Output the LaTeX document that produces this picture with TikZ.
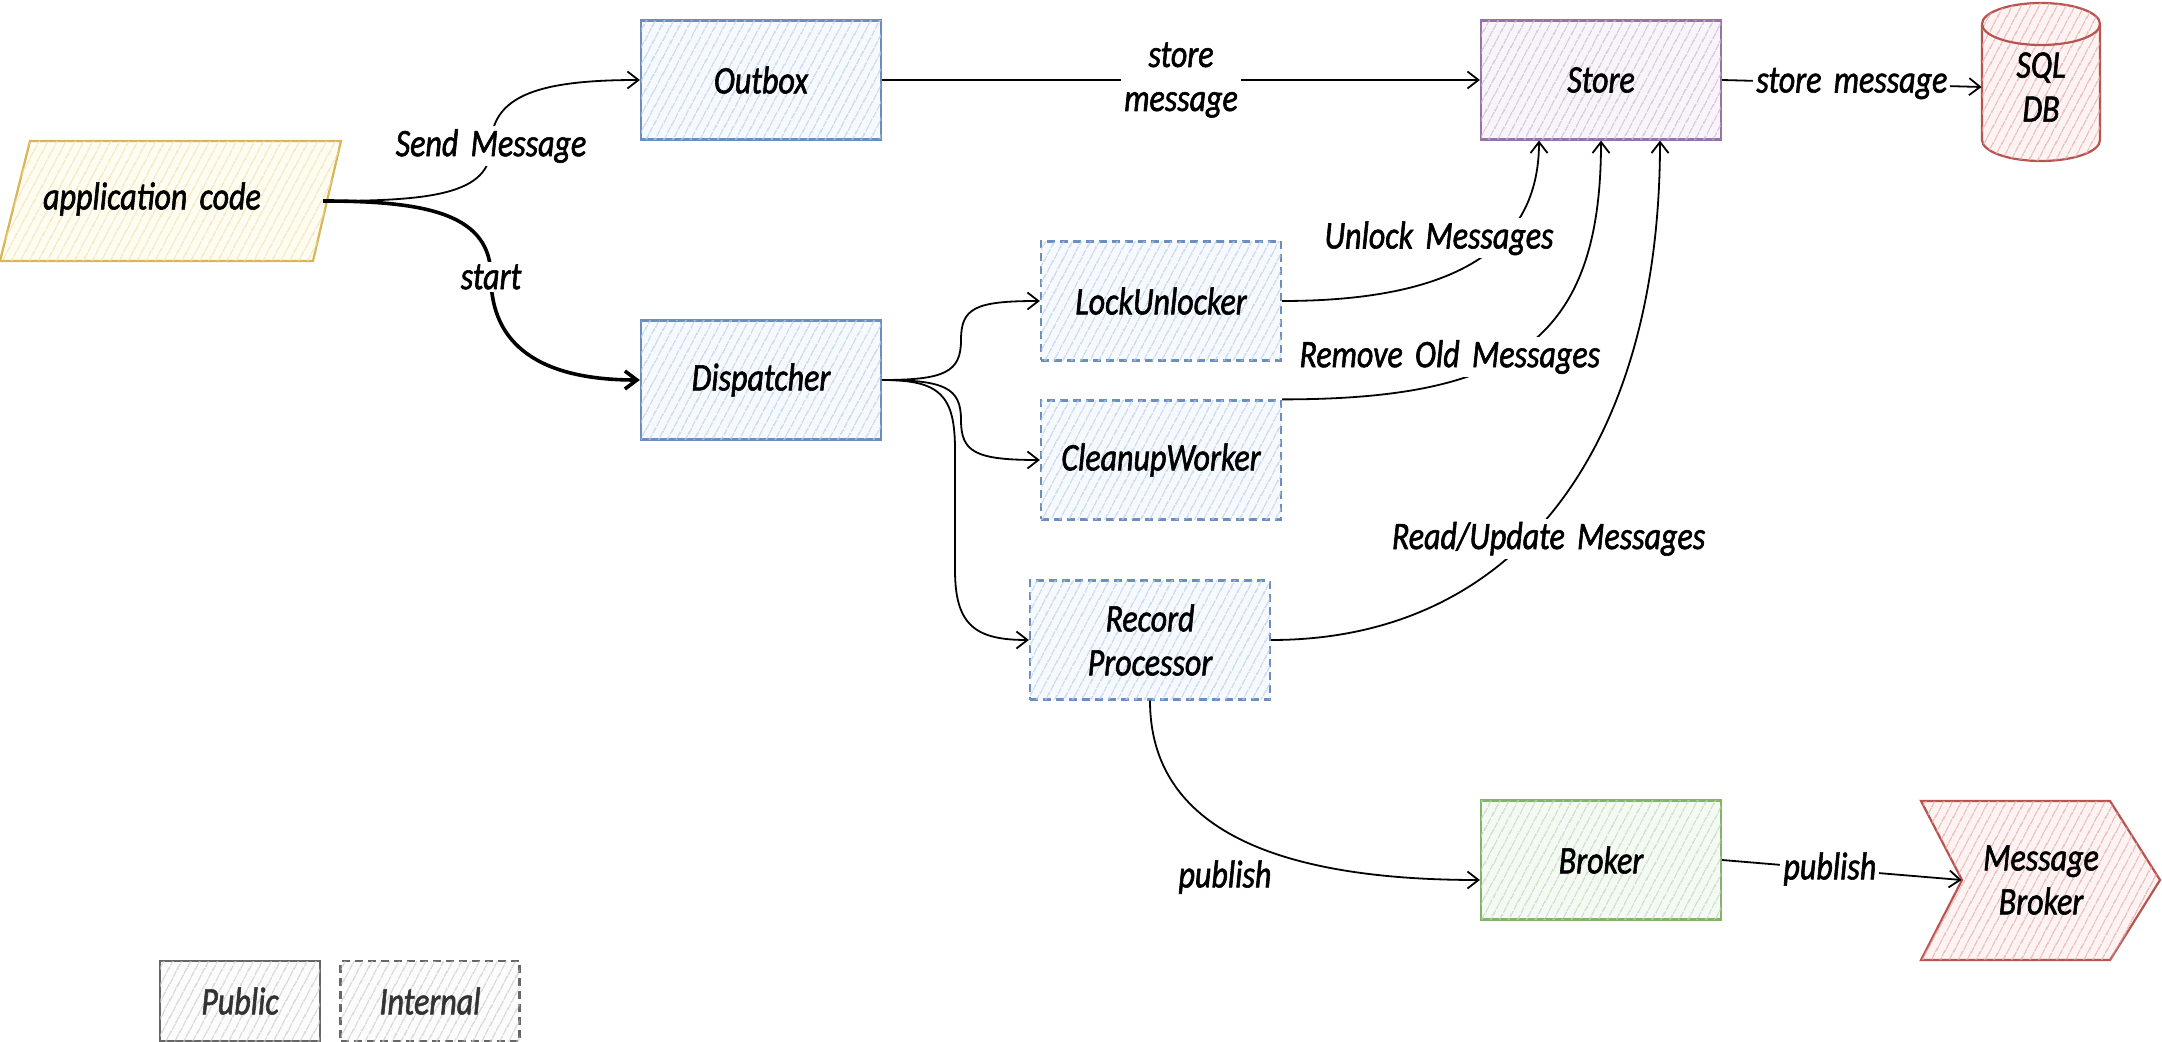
\documentclass[tikz,border=0pt]{standalone}
\usepackage{fontspec}
\setmainfont{Carlito}[FakeStretch=0.82,FakeBold=1.5,WordSpace=1.7]
\usetikzlibrary{arrows.meta,patterns.meta}
\definecolor{bluS}{HTML}{6C8EBF}\definecolor{bluF}{HTML}{DAE8FC}
\definecolor{yelS}{HTML}{D6B656}\definecolor{yelF}{HTML}{FFF2CC}
\definecolor{purS}{HTML}{9673A6}\definecolor{purF}{HTML}{E1D5E7}
\definecolor{grnS}{HTML}{82B366}\definecolor{grnF}{HTML}{D5E8D4}
\definecolor{redS}{HTML}{B85450}\definecolor{redF}{HTML}{F8CECC}
\definecolor{gryS}{HTML}{666666}\definecolor{gryF}{HTML}{F5F5F5}
\definecolor{txtgray}{HTML}{333333}
\newcommand\labfont{\fontsize{19.5}{22}\selectfont\itshape}
\begin{document}
\begin{tikzpicture}[x=0.5pt,y=-0.5pt,
  hatch/.style={postaction={pattern={Lines[angle=62,distance=4pt,line width=0.7pt]},pattern color=#1}},
  ubox/.style 2 args={draw=#1,fill=#2!25,line width=1.1pt,hatch={#2!70!#1},minimum width=120pt,minimum height=59.5pt,font=\labfont,align=center,inner sep=2pt},
  dbox/.style 2 args={ubox={#1}{#2},dash pattern=on 4pt off 2.5pt},
  shp/.style 2 args={draw=#1,fill=#2!25,line width=1.1pt,hatch={#2!70!#1}},
  conn/.style={line width=0.9pt,-{Straight Barb[length=5.5pt,width=8.5pt]}},
  elab/.style={fill=white,font=\labfont,inner sep=1.5pt,align=center}
]
\useasboundingbox (0,0) rectangle (2162,1042);

% application code (parallelogram)
\draw[shp={yelS}{yelF}] (30,141) -- (341,141) -- (313,261) -- (0,261) -- cycle;
\node[font=\labfont] (app) at (152,199) {application code};
\coordinate (appR) at (323,201);

% boxes
\node[ubox={bluS}{bluF}] (outbox) at (761,80) {Outbox};
\node[ubox={bluS}{bluF}] (disp) at (761,380) {Dispatcher};
\node[dbox={bluS}{bluF}] (lu) at (1161,301) {LockUnlocker};
\node[dbox={bluS}{bluF}] (cw) at (1161,460) {CleanupWorker};
\node[dbox={bluS}{bluF}] (rp) at (1150,640) {Record\\Processor};
\node[ubox={purS}{purF}] (store) at (1601,80) {Store};
\node[ubox={grnS}{grnF}] (broker) at (1601,860) {Broker};

% SQL DB cylinder
\draw[shp={redS}{redF}] (1982,24) -- (1982,140) arc[start angle=180,end angle=360,x radius=29.5pt,y radius=10.5pt] -- (2100,24) arc[start angle=0,end angle=180,x radius=29.5pt,y radius=10.5pt] -- cycle;
\draw[redS,line width=1.1pt] (1982,24) arc[start angle=180,end angle=360,x radius=29.5pt,y radius=10.5pt];
\node[font=\labfont,align=center,minimum width=59pt,minimum height=60pt] (db) at (2041,87) {SQL\\DB};

% Message Broker step shape
\draw[shp={redS}{redF}] (1921,801) -- (2110,801) -- (2160,880) -- (2110,960) -- (1921,960) -- (1962,880) -- cycle;
\node[font=\labfont,align=center,minimum width=79pt] (mb) at (2041,880) {Message\\Broker};

% legend
\node[ubox={gryS}{gryF},minimum width=80pt,minimum height=40pt,text=txtgray] (pub) at (240,1001) {Public};
\node[dbox={gryS}{gryF},minimum width=89.5pt,minimum height=40pt,text=txtgray] (int) at (430,1001) {Internal};

% connectors
\draw[conn] (appR) .. controls (430,201) and (491,195) .. (491,146) node[elab]{Send Message} .. controls (491,95) and (540,80) .. (outbox.west);
\draw[line width=1.8pt,-{Straight Barb[length=6pt,width=9pt]}] (appR) .. controls (430,201) and (491,215) .. (491,277) node[elab]{start} .. controls (491,345) and (540,380) .. (disp.west);
\draw[conn] (outbox.east) -- node[elab]{store\\message} (store.west);
\draw[conn] (store.east) -- node[elab]{store message} (db.west);
\draw[conn] (disp.east) .. controls (945,380) and (961,372) .. (961,340) .. controls (961,308) and (975,301) .. (lu.west);
\draw[conn] (disp.east) .. controls (945,380) and (961,388) .. (961,420) .. controls (961,452) and (975,460) .. (cw.west);
\draw[conn] (disp.east) .. controls (940,380) and (955,395) .. (955,450) -- (955,570) .. controls (955,625) and (975,640) .. (rp.west);
\draw[conn] (lu.east) .. controls +(172,0) and +(0,108) .. node[elab,pos=0.5,xshift=-18pt,yshift=11.5pt]{Unlock Messages} ([xshift=-31pt]store.south);
\draw[conn] (cw.north east) .. controls +(230,0) and +(0,200) .. node[elab,pos=0.5,xshift=-39pt,yshift=-6pt]{Remove Old Messages} (store.south);
\draw[conn] (rp.east) .. controls +(250,0) and +(0,300) .. node[elab,pos=0.45,xshift=5pt,yshift=-5.5pt]{Read/Update Messages} ([xshift=29.5pt]store.south);
\draw[conn] (rp.south) .. controls +(0,130) and +(-200,0) .. node[font=\labfont,pos=0.5,xshift=-7.5pt,yshift=-19pt]{publish} ([yshift=-10pt]broker.west);
\draw[conn] (broker.east) -- node[elab,pos=0.45]{publish} (mb.west);
\end{tikzpicture}
\end{document}
